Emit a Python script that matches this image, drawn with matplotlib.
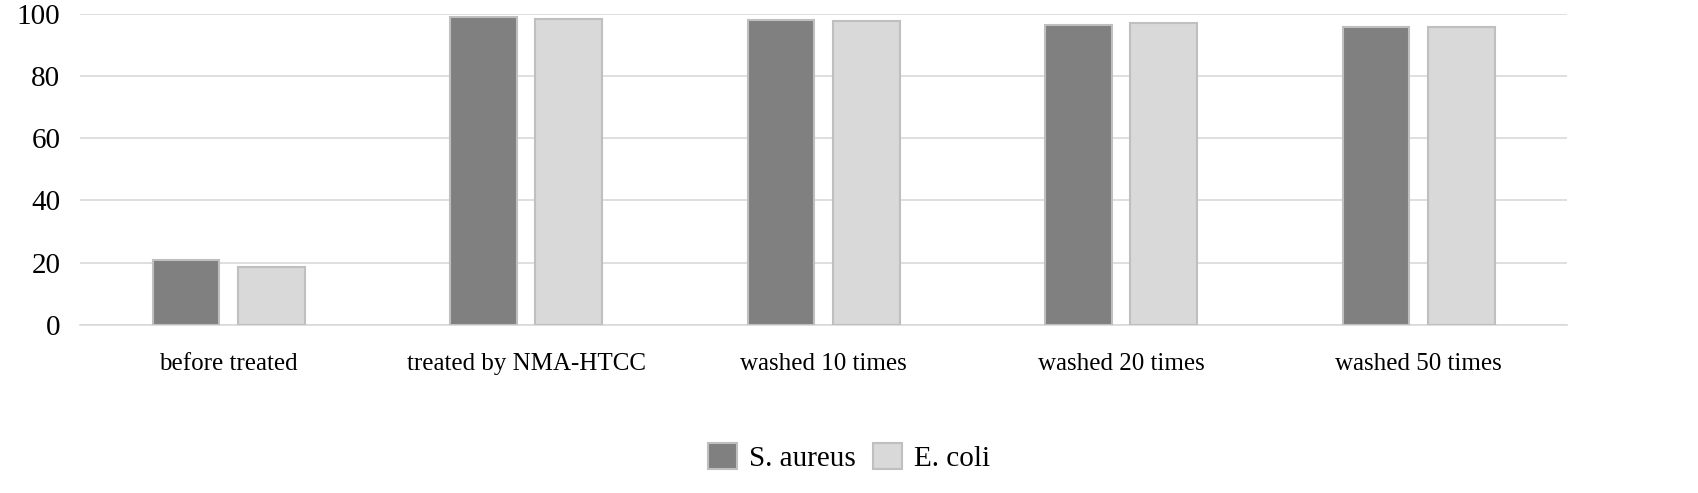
import matplotlib
matplotlib.use("Agg")
import matplotlib.pyplot as plt
import numpy as np

categories = ["before treated", "treated by NMA-HTCC", "washed 10 times", "washed 20 times", "washed 50 times"]
s_aureus = [20.9, 99.0, 98.0, 96.5, 95.9]
e_coli = [18.6, 98.3, 97.7, 96.9, 95.9]

plt.rcParams["font.family"] = "Liberation Serif"
fig = plt.figure(figsize=(16.98, 4.93), dpi=100)
ax = fig.add_axes([0.047, 0.341, 0.876, 0.631])

x = np.arange(len(categories))
w = 0.225
ax.bar(x - 0.143, s_aureus, width=w, color="#808080", edgecolor="#bfbfbf", linewidth=1.5, label="S. aureus", zorder=3)
ax.bar(x + 0.143, e_coli, width=w, color="#d9d9d9", edgecolor="#bfbfbf", linewidth=1.5, label="E. coli", zorder=3)

ax.set_xlim(-0.5, len(categories) - 0.5)
ax.set_ylim(0, 100)
ax.set_yticks(range(0, 101, 20))
ax.set_xticks(x)
ax.set_xticklabels(categories)
ax.tick_params(axis="y", length=0, labelsize=21, colors="#000000", pad=14)
ax.tick_params(axis="x", length=0, labelsize=18, colors="#000000", pad=20)
ax.grid(axis="y", color="#d9d9d9", linewidth=1.2, zorder=0)
for s in ["top", "right", "left"]:
    ax.spines[s].set_visible(False)
ax.spines["bottom"].set_color("#d9d9d9")
ax.spines["bottom"].set_linewidth(1.2)

fig.legend(loc="lower center", bbox_to_anchor=(0.5, -0.01), ncol=2, frameon=False,
           fontsize=21, handlelength=1.0, handleheight=1.0, columnspacing=0.6, handletextpad=0.4)

fig.savefig("out.png", dpi=100)
